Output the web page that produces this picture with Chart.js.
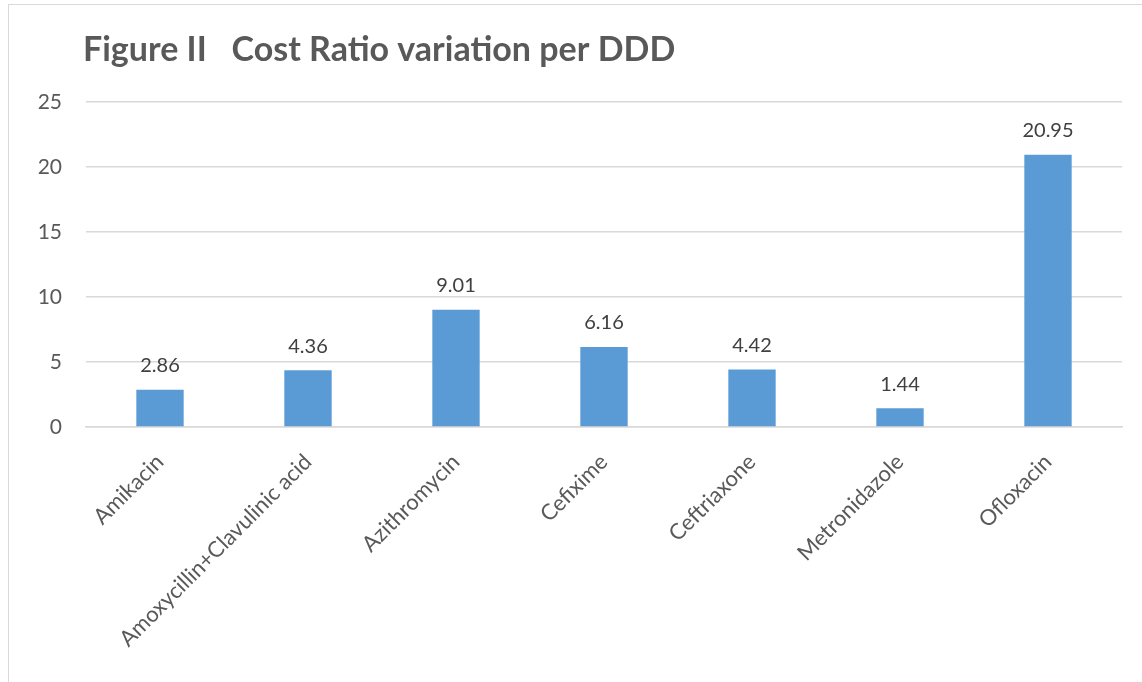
<!DOCTYPE html>
<html>
<head>
<meta charset="utf-8">
<script src="https://cdn.jsdelivr.net/npm/chart.js@4"></script>
<style>
  html, body { margin: 0; padding: 0; background: #fff; }
  #frame {
    position: absolute; left: 8px; top: 4px; width: 1200px; height: 700px;
    border-left: 1.5px solid #d9d9d9; border-top: 1.5px solid #d9d9d9;
  }
  #wrap { position: absolute; left: 0; top: 0; width: 1142px; height: 682px; }
</style>
</head>
<body>
<div id="frame"></div>
<div id="wrap"><canvas id="costChart"></canvas></div>
<script>
// Chart data
const drugs = ['Amikacin', 'Amoxycillin+Clavulinic acid', 'Azithromycin', 'Cefixime', 'Ceftriaxone', 'Metronidazole', 'Ofloxacin'];
const costRatio = [2.86, 4.36, 9.01, 6.16, 4.42, 1.44, 20.95];
const yTicks = [0, 5, 10, 15, 20, 25];
const chartTitle = 'Figure II   Cost Ratio variation per DDD';

// Title and value labels drawn on the canvas
const labelPlugin = {
    id: 'labelPlugin',
    afterDatasetsDraw(chart) {
        const ctx = chart.ctx;
        ctx.save();
        ctx.fillStyle = '#595959';
        ctx.font = 'bold 34px Lato';
        ctx.textAlign = 'left';
        ctx.textBaseline = 'middle';
        ctx.fillText(chartTitle, 83, 50);

        ctx.fillStyle = '#404040';
        ctx.font = '20px Lato';
        ctx.textAlign = 'center';
        const meta = chart.getDatasetMeta(0);
        meta.data.forEach((bar, i) => {
            ctx.fillText(costRatio[i].toFixed(2), bar.x, bar.y - 24);
        });
        ctx.restore();
    }
};

document.addEventListener('DOMContentLoaded', function() {
    const ctx = document.getElementById('costChart').getContext('2d');
    new Chart(ctx, {
        type: 'bar',
        data: {
            labels: drugs,
            datasets: [{
                label: 'Cost Ratio',
                data: costRatio,
                backgroundColor: '#5B9BD5',
                barPercentage: 0.32,
                categoryPercentage: 1
            }]
        },
        options: {
            responsive: true,
            maintainAspectRatio: false,
            animation: false,
            layout: { padding: { top: 102, right: 20, left: 0, bottom: 0 } },
            plugins: {
                legend: { display: false },
                tooltip: { enabled: false }
            },
            scales: {
                x: {
                    afterFit: s => { s.height = 255; },
                    grid: { display: false, drawTicks: false },
                    border: { color: '#d9d9d9', width: 1.5 },
                    ticks: {
                        color: '#595959',
                        font: { family: 'Lato', size: 22 },
                        minRotation: 45,
                        maxRotation: 45,
                        padding: 22
                    }
                },
                y: {
                    min: 0,
                    max: 25,
                    afterFit: s => { s.width = 86; },
                    afterBuildTicks: s => { s.ticks = yTicks.map(v => ({ value: v })); },
                    grid: { color: '#d9d9d9', lineWidth: 1.5, drawTicks: false },
                    border: { display: false },
                    ticks: {
                        color: '#595959',
                        font: { family: 'Lato', size: 21 },
                        padding: 24
                    }
                }
            }
        },
        plugins: [labelPlugin]
    });
});
</script>
</body>
</html>
